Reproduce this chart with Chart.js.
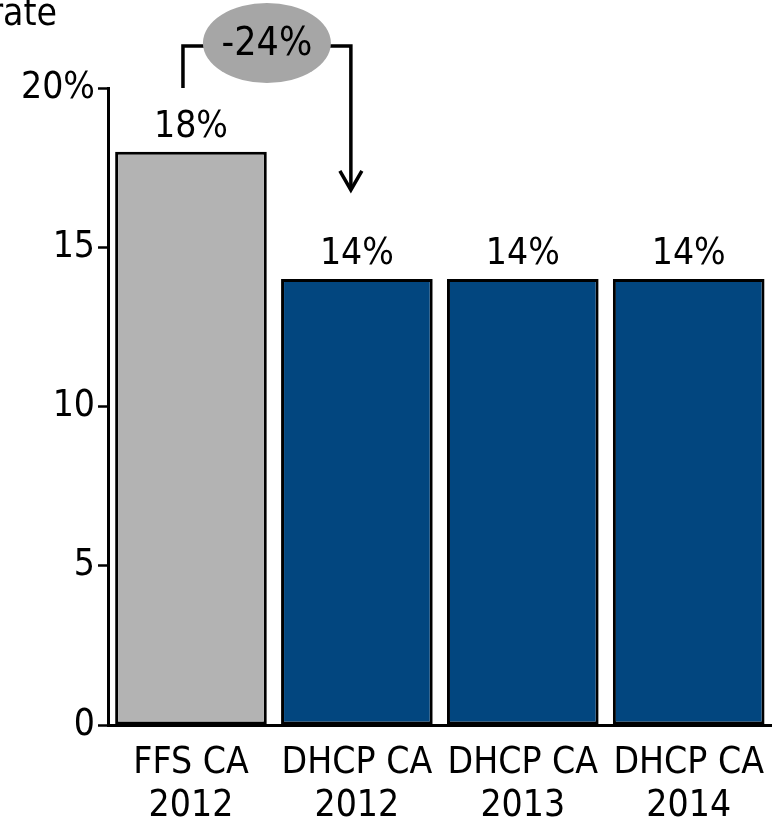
<!DOCTYPE html>
<html>
<head>
<meta charset="utf-8">
<script src="https://cdn.jsdelivr.net/npm/chart.js@4"></script>
<style>
html,body{margin:0;padding:0;background:#fff;overflow:hidden;}
#wrap{width:773px;height:818px;position:relative;}
</style>
</head>
<body>
<div id="wrap"><canvas id="c"></canvas></div>
<script>
const categories = [['FFS CA','2012'],['DHCP CA','2012'],['DHCP CA','2013'],['DHCP CA','2014']];
const values = [18, 14, 14, 14];
const valueLabels = ['18%','14%','14%','14%'];
const barColors = ['#b3b3b3','#02467f','#02467f','#02467f'];
const yTicks = [0,5,10,15,20];
const changeLabel = '-24%';
const axisTitle = 'rate';

const FONT = '"DejaVu Sans Condensed","DejaVu Sans",sans-serif';
const FS = 37;

const overlay = {
  id:'overlay',
  afterDatasetsDraw(chart){
    const ctx = chart.ctx;
    const xs = chart.scales.x, ys = chart.scales.y;
    const meta = chart.getDatasetMeta(0);
    ctx.save();
    ctx.fillStyle = '#000';
    ctx.font = FS + 'px ' + FONT;
    ctx.textAlign = 'center';
    ctx.textBaseline = 'alphabetic';
    meta.data.forEach((bar,i)=>{
      ctx.fillText(valueLabels[i], bar.x, bar.y - 15);
    });
    ctx.textAlign = 'right';
    ctx.fillText(axisTitle, 57, 25);
    const leftX = xs.getPixelForValue(0) - 8;
    const rightX = xs.getPixelForValue(1) - 6;
    const baseY = ys.getPixelForValue(20);
    const topY = baseY - 42;
    const tipY = ys.getPixelForValue(16.8);
    const cx = (leftX + rightX)/2, cy = topY - 3;
    const rx = 64, ry = 40;
    ctx.strokeStyle = '#000';
    ctx.lineWidth = 3.5;
    ctx.lineCap = 'butt';
    ctx.lineJoin = 'miter';
    ctx.beginPath();
    ctx.moveTo(leftX, baseY);
    ctx.lineTo(leftX, topY);
    ctx.lineTo(cx - rx + 2, topY);
    ctx.stroke();
    ctx.beginPath();
    ctx.moveTo(cx + rx - 2, topY);
    ctx.lineTo(rightX, topY);
    ctx.lineTo(rightX, tipY);
    ctx.stroke();
    ctx.beginPath();
    ctx.moveTo(rightX - 11, tipY - 19);
    ctx.lineTo(rightX, tipY);
    ctx.lineTo(rightX + 11, tipY - 19);
    ctx.stroke();
    ctx.fillStyle = '#a6a6a6';
    ctx.beginPath();
    ctx.ellipse(cx, cy, rx, ry, 0, 0, Math.PI*2);
    ctx.fill();
    ctx.fillStyle = '#000';
    ctx.textAlign = 'center';
    ctx.textBaseline = 'middle';
    ctx.font = (FS + 2) + 'px ' + FONT;
    ctx.fillText(changeLabel, cx, cy + 2);
    ctx.restore();
  }
};

new Chart(document.getElementById('c'), {
  type:'bar',
  data:{
    labels: categories,
    datasets:[{
      data: values,
      backgroundColor: barColors,
      borderColor:'#000',
      borderWidth:3,
      borderSkipped:false,
      barPercentage:0.914,
      categoryPercentage:1
    }]
  },
  options:{
    responsive:true,
    maintainAspectRatio:false,
    animation:false,
    devicePixelRatio:1,
    layout:{padding:{top:88,left:0,right:0,bottom:0}},
    plugins:{legend:{display:false},tooltip:{enabled:false}},
    scales:{
      x:{
        grid:{display:false},
        border:{display:true,color:'#000',width:3},
        ticks:{color:'#000',padding:9,maxRotation:0,autoSkip:false,font:{family:FONT,size:FS,lineHeight:1.16}},
        afterFit(s){ s.height = 93; }
      },
      y:{
        min:0,max:20,
        afterBuildTicks(s){ s.ticks = yTicks.map(v=>({value:v})); },
        grid:{drawOnChartArea:false,drawTicks:true,tickLength:10,color:'#000',tickWidth:2.5},
        border:{display:true,color:'#000',width:3},
        ticks:{color:'#000',padding:3,font:{family:FONT,size:FS},callback:v=> v===20 ? '20%' : String(v)},
        afterFit(s){ s.width = 108; }
      }
    }
  },
  plugins:[overlay]
});
</script>
</body>
</html>
